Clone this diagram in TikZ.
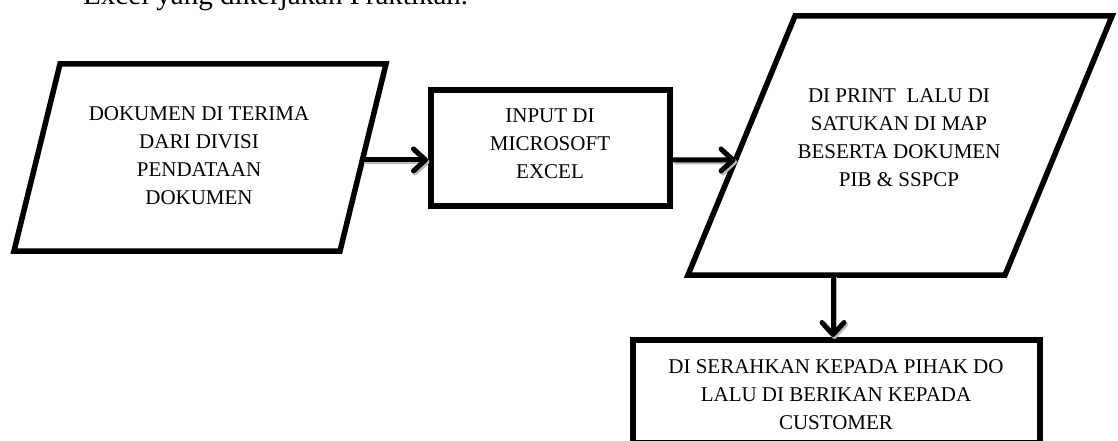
\documentclass[tikz,border=0pt]{standalone}
\usepackage{fontspec}
\setmainfont{Liberation Serif}
\usetikzlibrary{arrows.meta,calc}
\begin{document}
\begin{tikzpicture}[x=1pt,y=-1pt,
  outl/.style={line width=5.5pt, line join=miter},
  box/.style={draw, line width=6pt, inner sep=0pt},
  txt/.style={align=center, font=\fontsize{21}{28}\selectfont, inner sep=0pt},
  tipshape/.style={-{Straight Barb[length=12pt,width=22pt,round]}},
  flow/.style={line width=5pt, tipshape,
    preaction={draw=gray!55, line width=5pt, tipshape, transform canvas={shift={(1.5pt,-2pt)}}}}]
\useasboundingbox (0,0) rectangle (1118,441);
\fill[white] (0,0) rectangle (1118,441);

% cut-off line of text above the chart
\node[anchor=base west, inner sep=0pt, font=\fontsize{29}{34}\selectfont] (head) at (83,5) {Excel yang dikerjakan Praktikan.};

% step 1: parallelogram
\draw[outl] (60,64) coordinate (p1tl) -- (386,64) coordinate (p1tr)
  -- (340,251) coordinate (p1br) -- (14,251) coordinate (p1bl) -- cycle;
\node[txt] (t1) at (199,156) {DOKUMEN DI TERIMA\\DARI DIVISI\\PENDATAAN\\DOKUMEN};

% step 2: rectangle
\node[box, minimum width=239pt, minimum height=116pt] (b2) at (550.5,148) {};
\node[txt] (t2) at (550,143.5) {INPUT DI\\MICROSOFT\\EXCEL};

% step 3: parallelogram
\draw[outl] (795,16) coordinate (p3tl) -- (1112,16) coordinate (p3tr)
  -- (1005,275) coordinate (p3br) -- (688,275) coordinate (p3bl) -- cycle;
\node[txt] (t3) at (899,137.5) {DI PRINT~ LALU DI\\SATUKAN DI MAP\\BESERTA DOKUMEN\\PIB \& SSPCP};

% step 4: rectangle (cut off at bottom)
\node[box, minimum width=407.5pt, minimum height=103pt] (b4) at (836.25,391.5) {};
\node[txt] (t4) at (836,394.5) {DI SERAHKAN KEPADA PIHAK DO\\LALU DI BERIKAN KEPADA\\CUSTOMER};

% connectors
\coordinate (a1s) at ($(p1tr)!0.513!(p1br)$);
\coordinate (a2e) at ($(p3tl)!0.556!(p3bl)$);
\coordinate (a3s) at (833,275);
\draw[flow] (a1s) -- (a1s -| b2.west);
\draw[flow] (a1s -| b2.east) -- (a2e);
\draw[flow] (a3s) -- (a3s |- b4.north);
\end{tikzpicture}
\end{document}
